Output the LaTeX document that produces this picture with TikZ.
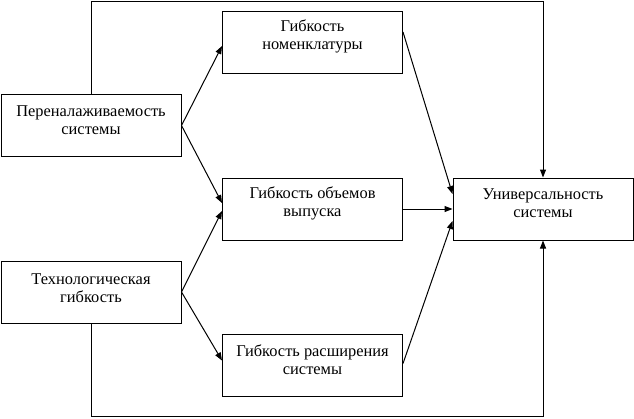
\documentclass[tikz,border=0pt]{standalone}
\usepackage{fontspec}
\setmainfont{Liberation Serif}
\usetikzlibrary{arrows.meta,calc}
\begin{document}
\begin{tikzpicture}[x=0.75pt,y=-0.75pt,
  box/.style={draw,line width=0.75pt,minimum width=180*0.75pt,minimum height=62*0.75pt,inner sep=0pt},
  txt/.style={align=center,font=\fontsize{12.3}{13.5}\selectfont,inner sep=0pt},
  conn/.style={line width=0.75pt,-{Triangle[length=6pt,width=4.5pt]}}]
\useasboundingbox (0,0) rectangle (634,418);
% boxes
\node[box] (a) at (91,125.5) {};
\node[box] (b) at (91,292) {};
\node[box] (n) at (312.5,42) {};
\node[box] (v) at (312.5,209) {};
\node[box] (r) at (312.5,365.5) {};
\node[box] (u) at (543,209) {};
% texts
\node[txt] (ta) at ($(a.center)+(0,-5)$) {Переналаживаемость\\системы};
\node[txt] (tb) at ($(b.center)+(0,-4)$) {Технологическая\\гибкость};
\node[txt] (tn) at ($(n.center)+(0,-6)$) {Гибкость\\номенклатуры};
\node[txt] (tv) at ($(v.center)+(0,-6)$) {Гибкость объемов\\выпуска};
\node[txt] (tr) at ($(r.center)+(0,-6)$) {Гибкость расширения\\системы};
\node[txt] (tu) at ($(u.center)+(0,-6)$) {Универсальность\\системы};
% connector end points
\coordinate (nin) at ($(n.west)+(0,4)$);
\coordinate (vin1) at ($(v.west)+(0,-6)$);
\coordinate (vin2) at ($(v.west)+(0,2)$);
\coordinate (rin) at ($(r.west)+(0,-5)$);
\coordinate (nout) at ($(n.east)+(0,-10)$);
\coordinate (rout) at ($(r.east)+(0,-2)$);
\coordinate (uin1) at ($(u.west)+(0,-15)$);
\coordinate (uin3) at ($(u.west)+(0,12)$);
\coordinate (topy) at (0,1.5);
\coordinate (boty) at (0,416.5);
% connectors
\draw[conn] (a.east) -- (nin);
\draw[conn] (a.east) -- (vin1);
\draw[conn] (b.east) -- (vin2);
\draw[conn] (b.east) -- (rin);
\draw[conn] (nout) -- (uin1);
\draw[conn] (v.east) -- (u.west);
\draw[conn] (rout) -- (uin3);
\draw[conn] (a.north) -- (a.north |- topy) -| (u.north);
\draw[conn] (b.south) -- (b.south |- boty) -| (u.south);
\end{tikzpicture}
\end{document}
